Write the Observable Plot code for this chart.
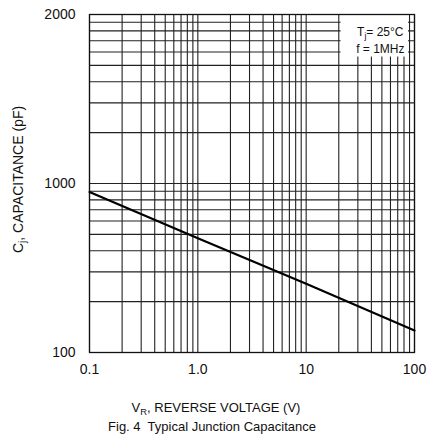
<!DOCTYPE html>
<html><head><meta charset="utf-8">
<script src="https://cdn.jsdelivr.net/npm/d3@7"></script>
<script src="https://cdn.jsdelivr.net/npm/@observablehq/plot@0.6"></script>
<style>body{margin:0;background:#fff} svg{display:block}</style>
</head><body><div id="chart"></div>
<script>
// ---- data ----
const voltage = [0.1, 1, 10, 100];            // V_R (V)
const capacitance = [890, 475, 255, 135];      // C_j (pF)
const xDomain = [0.1, 100];
const yDomain = [100, 10000];
const xTicks = [0.1, 1, 10, 100];
const xTickLabels = ["0.1", "1.0", "10", "100"];
const yTicks = [100, 1000, 10000];
const yTickLabels = ["100", "1000", "2000"];
const conditionParts = [[["T", 0], ["j", 1], ["= 25°C", 0]], [["f = 1MHz", 0]]];
const xTitleParts = [["V", 0], ["R", 1], [", REVERSE VOLTAGE (V)", 0]];
const yTitleParts = [["C", 0], ["j", 1], [", CAPACITANCE (pF)", 0]];
const caption = "Fig. 4  Typical Junction Capacitance";

const join = parts => parts.map(p => p[0]).join("");
const curve = voltage.map((v, i) => ({v, c: capacitance[i]}));
const ink = "#111";

const chart = Plot.plot({
  width: 428, height: 435,
  marginLeft: 89, marginRight: 14, marginTop: 14, marginBottom: 83,
  style: {fontFamily: "'Liberation Sans', Arial, sans-serif", color: ink, background: "#fff"},
  x: {type: "log", domain: xDomain},
  y: {type: "log", domain: yDomain},
  marks: [
    Plot.ruleX(d3.scaleLog().domain(xDomain).ticks(), {stroke: "#222", strokeWidth: 1.1}),
    Plot.ruleY(d3.scaleLog().domain(yDomain).ticks(), {stroke: "#222", strokeWidth: 1.1}),
    Plot.rect([0], {x1: () => 21, x2: () => 88, y1: () => 5600, y2: () => 10000, fill: "#fff"}),
    Plot.frame({stroke: "#111", strokeWidth: 1.3}),
    Plot.line(curve, {x: "v", y: "c", stroke: "#000", strokeWidth: 2.2}),
    Plot.axisX(xTicks, {tickSize: 0, tickPadding: 12, fontSize: 14, label: null,
      tickFormat: d => xTickLabels[xTicks.indexOf(d)]}),
    Plot.axisY(yTicks, {tickSize: 0, tickPadding: 14, fontSize: 14, label: null,
      tickFormat: d => yTickLabels[yTicks.indexOf(d)]}),
    Plot.text([join(conditionParts[0])], {text: d => d, frameAnchor: "top-right", dx: -11, dy: 18,
      textAnchor: "end", lineAnchor: "middle", fontSize: 12}),
    Plot.text([join(conditionParts[1])], {text: d => d, frameAnchor: "top-right", dx: -10, dy: 35,
      textAnchor: "end", lineAnchor: "middle", fontSize: 12}),
    Plot.text([join(xTitleParts)], {text: d => d, frameAnchor: "bottom", dx: -36, dy: 55,
      textAnchor: "middle", lineAnchor: "middle", fontSize: 13}),
    Plot.text([caption], {text: d => d, frameAnchor: "bottom", dx: -40, dy: 74,
      textAnchor: "middle", lineAnchor: "middle", fontSize: 13}),
    Plot.text([join(yTitleParts)], {text: d => d, frameAnchor: "left", dx: -71, dy: -4,
      rotate: -90, textAnchor: "middle", lineAnchor: "middle", fontSize: 14})
  ]
});
document.getElementById("chart").appendChild(chart);

// subscripts as real tspans
const NS = "http://www.w3.org/2000/svg";
function setParts(el, parts) {
  el.textContent = "";
  let shift = 0;
  for (const [s, sub] of parts) {
    const t = document.createElementNS(NS, "tspan");
    const target = sub ? 3 : 0;
    t.setAttribute("dy", target - shift);
    shift = target;
    if (sub) t.setAttribute("font-size", "0.72em");
    t.textContent = s;
    el.appendChild(t);
  }
}
const allParts = [...conditionParts, xTitleParts, yTitleParts];
chart.querySelectorAll("text").forEach(el => {
  const p = allParts.find(ps => join(ps) === el.textContent);
  if (p && p.some(q => q[1])) setParts(el, p);
});
</script></body></html>
